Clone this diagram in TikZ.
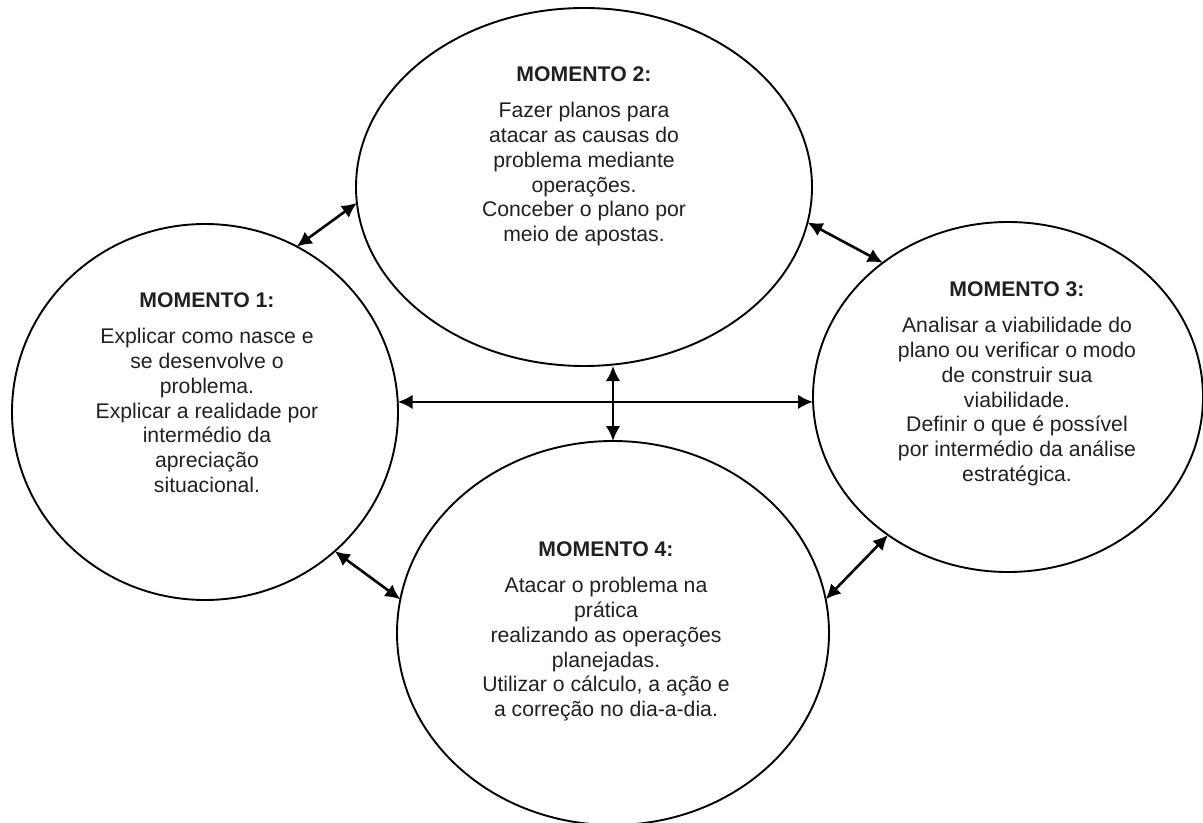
\documentclass[tikz,border=0pt]{standalone}
\usepackage{fontspec}
\setmainfont{Liberation Sans}
\usetikzlibrary{shapes.geometric,arrows.meta}
\definecolor{txtgray}{RGB}{35,31,32}
\begin{document}
\begin{tikzpicture}[
    x=0.5pt, y=-0.5pt,
    >={Latex[length=7.5pt,width=7.3pt]},
    momento/.style={draw, ellipse, line width=0.95pt, inner sep=0pt, outer sep=0pt},
    texto/.style={align=center, anchor=north, inner sep=0pt, text=txtgray,
                  font=\fontsize{10.6}{12.35}\selectfont},
    seta/.style={<->, line width=1.3pt}
    ]
    \useasboundingbox (0,0) rectangle (1203,823);

    % os quatro momentos
    \node [momento, minimum width=193pt, minimum height=188pt] (m1) at (205,412) {};
    \node [momento, minimum width=228pt, minimum height=179pt] (m2) at (584,187) {};
    \node [momento, minimum width=195pt, minimum height=175pt] (m3) at (1008,397) {};
    \node [momento, minimum width=216pt, minimum height=192pt] (m4) at (613,633) {};

    \node [texto] (t1) at (207,292) {\textbf{MOMENTO 1:}\\[6pt]
        Explicar como nasce e\\ se desenvolve o\\ problema.\\ Explicar a realidade por\\
        intermédio da\\ apreciação\\ situacional.};
    \node [texto] (t2) at (584,66) {\textbf{MOMENTO 2:}\\[6pt]
        Fazer planos para\\ atacar as causas do\\ problema mediante\\ operações.\\
        Conceber o plano por\\ meio de apostas.};
    \node [texto] (t3) at (1017,281) {\textbf{MOMENTO 3:}\\[6pt]
        Analisar a viabilidade do\\ plano ou verificar o modo\\ de construir sua\\ viabilidade.\\
        Definir o que é possível\\ por intermédio da análise\\ estratégica.};
    \node [texto] (t4) at (606,541) {\textbf{MOMENTO 4:}\\[6pt]
        Atacar o problema na\\ prática\\ realizando as operações\\ planejadas.\\
        Utilizar o cálculo, a ação e\\ a correção no dia-a-dia.};

    % ligações
    \draw [seta] (m1.61) -- (m2.184);
    \draw [seta] (m2.-9) -- (m3.133);
    \draw [seta] (m1.-47) -- (m4.171);
    \draw [seta] (m3.229) -- (m4.9);
    \draw [seta] (m1.3) -- (m1.3 -| m3.west);
    \draw [seta] (m4.north) -- (m4.north |- m2.south);
\end{tikzpicture}
\end{document}
